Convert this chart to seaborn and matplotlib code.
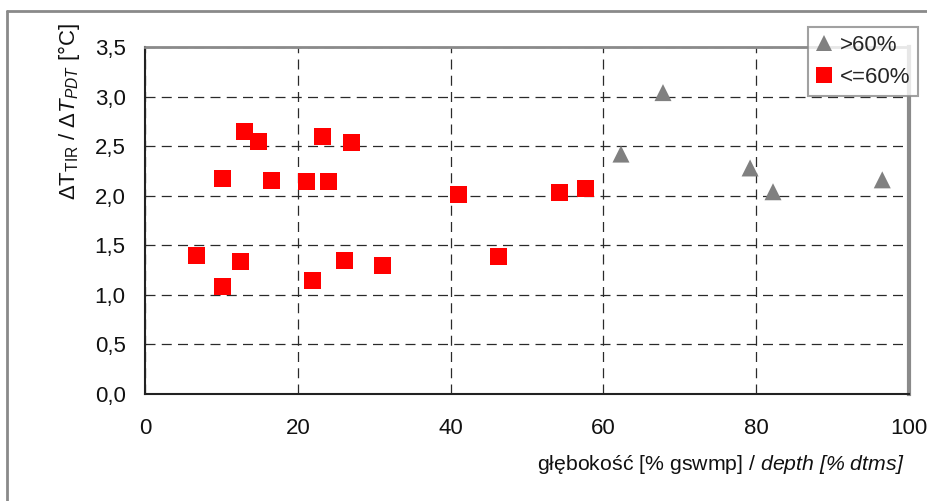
import matplotlib
matplotlib.use("Agg")
import matplotlib.pyplot as plt
from matplotlib.lines import Line2D
import pandas as pd
import seaborn as sns

# depth [% of tissue] and temperature ratio, two groups
depth_low = [6.7, 10.1, 10.1, 12.5, 13.0, 14.9, 16.6, 21.1, 21.9, 23.2, 24.0,
             26.1, 27.0, 31.1, 41.0, 46.3, 54.3, 57.7]
ratio_low = [1.40, 1.08, 2.17, 1.34, 2.65, 2.55, 2.15, 2.14, 1.14, 2.60, 2.14,
             1.35, 2.54, 1.30, 2.01, 1.39, 2.03, 2.07]
depth_high = [62.3, 67.8, 79.2, 82.2, 96.5]
ratio_high = [2.42, 3.04, 2.28, 2.04, 2.16]

groups = [">60%", "<=60%"]
colors = {">60%": "#808080", "<=60%": "#ff0000"}
markers = {">60%": "^", "<=60%": "s"}

x_ticks = [0, 20, 40, 60, 80, 100]
y_ticks = [0.0, 0.5, 1.0, 1.5, 2.0, 2.5, 3.0, 3.5]
y_ticklabels = [f"{v:.1f}".replace(".", ",") for v in y_ticks]

df = pd.DataFrame({
    "depth": depth_high + depth_low,
    "ratio": ratio_high + ratio_low,
    "group": [groups[0]] * len(depth_high) + [groups[1]] * len(depth_low),
})

sns.set_theme(style="white")
plt.rcParams["font.family"] = ["Liberation Sans", "DejaVu Sans"]
plt.rcParams["mathtext.fontset"] = "custom"
plt.rcParams["mathtext.rm"] = "Liberation Sans"
plt.rcParams["mathtext.it"] = "Liberation Sans:italic"
plt.rcParams["mathtext.sf"] = "Liberation Sans:italic"
plt.rcParams["mathtext.bf"] = "Liberation Sans:bold"

fig = plt.figure(figsize=(9.27, 5.01), dpi=100)
fig.patch.set_facecolor("white")
ax = fig.add_axes([145 / 927, 1 - 394 / 501, 764 / 927, 347 / 501])

sns.scatterplot(data=df, x="depth", y="ratio", hue="group", style="group",
                hue_order=groups, style_order=groups, palette=colors,
                markers=markers, s=150, linewidth=0, edgecolor="none",
                ax=ax, legend=False, zorder=3)

ax.set_xlim(0, 100)
ax.set_ylim(0, 3.5)
ax.set_xticks(x_ticks)
ax.set_xticklabels([str(t) for t in x_ticks])
ax.set_yticks(y_ticks)
ax.set_yticklabels(y_ticklabels)

ax.grid(True, color="#2a2a2a", linestyle=(0, (8, 5)), linewidth=0.9, zorder=1)
ax.set_axisbelow(True)

ax.tick_params(axis="both", direction="inout", length=10, width=1.0,
               color="#222222", labelsize=16, labelcolor="#111111", pad=9)
ax.tick_params(axis="x", pad=12)

for side in ["left", "bottom"]:
    ax.spines[side].set_color("#222222")
    ax.spines[side].set_linewidth(1.5)
ax.spines["top"].set_color("#8a8a8a")
ax.spines["top"].set_linewidth(2)
ax.spines["right"].set_color("#8a8a8a")
ax.spines["right"].set_linewidth(3)

ax.set_xlabel(r"głębokość [% gswmp] / $\mathsf{depth\ [\%\ dtms]}$",
              fontsize=15.3, color="#111111", loc="right")
ax.xaxis.set_label_coords(0.994, -0.17)
ax.set_ylabel(r"$\Delta\mathrm{T}_{\mathrm{TIR}}$ / $\Delta T_{PDT}$ [°C]",
              fontsize=16, color="#111111", loc="top")
ax.yaxis.set_label_coords(-0.082, 1.069)

handles = [Line2D([], [], linestyle="none", marker=markers[g], color=colors[g],
                  markersize=11, markeredgewidth=0) for g in groups]
leg = fig.legend(handles, groups, loc="upper right",
                 bbox_to_anchor=(918 / 927, 1 - 27 / 501), fontsize=16,
                 frameon=True, fancybox=False, shadow=False,
                 handlelength=0.8, handletextpad=0.3, borderpad=0.35,
                 labelspacing=0.5, borderaxespad=0)
leg.get_frame().set_edgecolor("#8a8a8a")
leg.get_frame().set_linewidth(1.5)
leg.set_zorder(5)

# outer frame of the figure
fig.add_artist(Line2D([7 / 927, 7 / 927], [0, 1 - 11 / 501],
                      transform=fig.transFigure, color="#8a8a8a", lw=2))
fig.add_artist(Line2D([7 / 927, 1], [1 - 11 / 501, 1 - 11 / 501],
                      transform=fig.transFigure, color="#8a8a8a", lw=2))

fig.savefig("out.png", dpi=100)
